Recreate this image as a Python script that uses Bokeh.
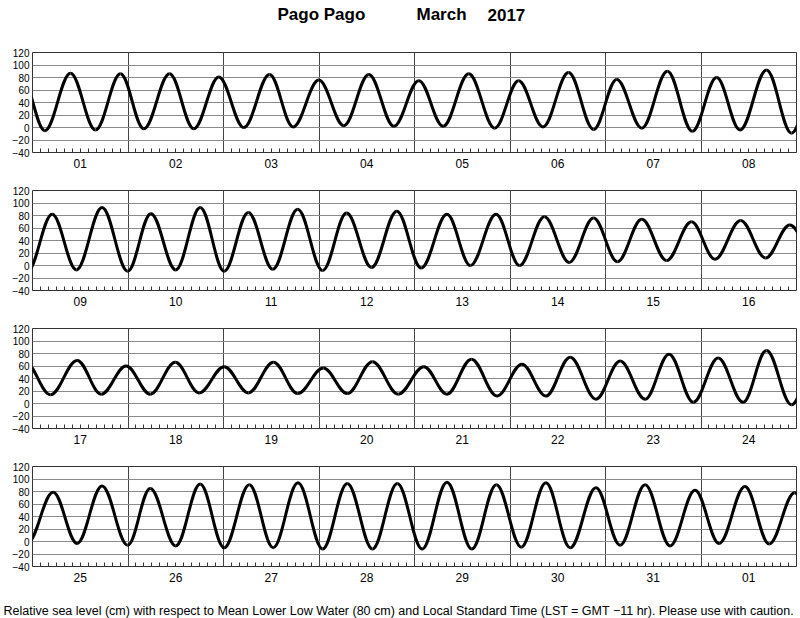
import numpy as np
from bokeh.plotting import figure
from bokeh.layouts import column
from bokeh.models import Range1d, FixedTicker, Label, ColumnDataSource
from bokeh.embed import file_html
from bokeh.resources import INLINE

# Tide extrema: time in days since 2017-03-01 00:00 LST, height in cm
t_ext = [-0.12, 0.129, 0.398, 0.66, 0.921, 1.166, 1.435, 1.689, 1.951, 2.213, 2.482,
         2.729, 2.998, 3.26, 3.522, 3.784, 4.045, 4.30, 4.568, 4.84, 5.09, 5.345,
         5.613, 5.875, 6.118, 6.38, 6.648, 6.909, 7.164, 7.408, 7.686, 7.948,
         8.206, 8.46, 8.728, 8.997, 9.24, 9.50, 9.756, 10.007, 10.26, 10.516, 10.777,
         11.038, 11.289, 11.55, 11.815, 12.07, 12.34, 12.585, 12.854, 13.10, 13.36,
         13.62, 13.875, 14.125, 14.38, 14.64, 14.90, 15.146, 15.415, 15.676, 15.93,
         16.188, 16.467, 16.72, 16.98, 17.233, 17.495, 17.745, 18.007, 18.261, 18.523,
         18.777, 19.045, 19.296, 19.56, 19.83, 20.098, 20.34, 20.596, 20.864, 21.125,
         21.376, 21.63, 21.90, 22.153, 22.415, 22.665, 22.92, 23.18, 23.44, 23.686,
         23.948, 24.216, 24.467, 24.728, 24.997, 25.233, 25.50, 25.756, 26.007, 26.27,
         26.52, 26.78, 27.038, 27.296, 27.56, 27.82, 28.08, 28.34, 28.60, 28.857,
         29.118, 29.376, 29.63, 29.90, 30.153, 30.415, 30.676, 30.937, 31.19, 31.46,
         31.714, 31.98, 32.24]
h_ext = [85, -5, 87, -4, 86, -2, 86, -2, 81, 0, 85,
         1, 76, 3, 85, 2, 75, 2, 86, -1, 75, 1,
         88, -3, 77, -1, 90, -6, 80, -4, 92, -9,
         82, -7, 93, -9, 83, -7, 93, -9, 85, -6, 90,
         -8, 84, -3, 87, -4, 82, 0, 82, 0, 78,
         5, 76, 6, 74, 8, 70, 10, 72, 12, 65,
         14, 69, 15, 60, 15, 66, 17, 59, 17, 66,
         16, 57, 16, 67, 15, 59, 15, 71, 12, 63,
         12, 74, 7, 68, 7, 79, 2, 73, 2, 85,
         -2, 79, -3, 89, -6, 85, -7, 92, -10, 91,
         -10, 94, -12, 93, -12, 93, -12, 95, -12, 91,
         -9, 94, -10, 86, -6, 91, -7, 82, -3, 88,
         -4, 78, 0]

day_labels = ["01", "02", "03", "04", "05", "06", "07", "08",
              "09", "10", "11", "12", "13", "14", "15", "16",
              "17", "18", "19", "20", "21", "22", "23", "24",
              "25", "26", "27", "28", "29", "30", "31", "01"]
y_ticks = [-40, -20, 0, 20, 40, 60, 80, 100, 120]
y_tick_labels = ["\u221240", "\u221220", "0", "20", "40", "60", "80", "100", "120"]

title_parts = ["Pago Pago", "March", "2017"]
footer_text = ("Relative sea level (cm) with respect to Mean Lower Low Water (80 cm) and "
               "Local Standard Time (LST = GMT \u221211 hr). Please use with caution.")

FONT = "Liberation Sans"
K = 0.3634  # bezier handle fraction approximating a half-cosine between extrema

t = np.array(t_ext, dtype=float)
h = np.array(h_ext, dtype=float)
dt = t[1:] - t[:-1]
src = ColumnDataSource(dict(
    x0=t[:-1], y0=h[:-1], x1=t[1:], y1=h[1:],
    cx0=t[:-1] + K * dt, cy0=h[:-1], cx1=t[1:] - K * dt, cy1=h[1:]))

W = 800
LEFT = 32


def text_strip(height):
    s = figure(width=W, height=height, output_backend="svg", toolbar_location=None,
               x_axis_location=None, y_axis_location=None,
               x_range=Range1d(0, 1), y_range=Range1d(0, 1), frame_align=False,
               min_border_left=0, min_border_right=0, min_border_top=0, min_border_bottom=0)
    s.grid.visible = False
    s.outline_line_color = None
    s.background_fill_color = "white"
    s.border_fill_color = "white"
    return s


header = text_strip(40)
for txt, xs in zip(title_parts, (277, 416, 487)):
    header.add_layout(Label(x=xs, y=26, x_units="screen", y_units="screen", text=txt,
                            text_font=FONT, text_font_size="17px", text_font_style="bold",
                            text_baseline="alphabetic", text_color="black"))

figs = []
for k in range(4):
    p = figure(width=W, height=12 + 100 + 26, output_backend="svg",
               toolbar_location=None, x_range=Range1d(8 * k, 8 * k + 8),
               y_range=Range1d(-40, 120),
               min_border_left=LEFT, min_border_right=4,
               min_border_top=12, min_border_bottom=26)
    p.outline_line_color = "#333333"
    p.outline_line_width = 1
    p.background_fill_color = "white"
    p.border_fill_color = "white"

    # grids
    p.ygrid.ticker = FixedTicker(ticks=y_ticks[1:-1])
    p.ygrid.grid_line_color = "#8a8a8a"
    p.ygrid.grid_line_width = 1
    p.xgrid.ticker = FixedTicker(ticks=[8 * k + i for i in range(1, 8)])
    p.xgrid.grid_line_color = "#444444"
    p.xgrid.grid_line_width = 1

    # y axis
    p.yaxis.ticker = FixedTicker(ticks=y_ticks)
    p.yaxis.major_label_overrides = {v: s for v, s in zip(y_ticks, y_tick_labels)}
    p.yaxis.axis_line_color = None
    p.yaxis.major_tick_line_color = None
    p.yaxis.major_tick_out = 0
    p.yaxis.major_tick_in = 0
    p.yaxis.minor_tick_line_color = None
    p.yaxis.minor_tick_out = 0
    p.yaxis.major_label_standoff = 3
    p.yaxis.major_label_text_font = FONT
    p.yaxis.major_label_text_font_size = "10px"
    p.yaxis.major_label_text_color = "black"

    # x axis: day labels at day centres, small inward ticks every 2 hours
    centers = [8 * k + i + 0.5 for i in range(8)]
    minors = [8 * k + j / 12 for j in range(1, 96) if j % 12 != 0]
    p.xaxis.ticker = FixedTicker(ticks=centers, minor_ticks=minors)
    p.xaxis.major_label_overrides = {c: day_labels[8 * k + i] for i, c in enumerate(centers)}
    p.xaxis.axis_line_color = None
    p.xaxis.major_tick_line_color = None
    p.xaxis.major_tick_out = 0
    p.xaxis.major_tick_in = 0
    p.xaxis.minor_tick_in = 4
    p.xaxis.minor_tick_out = 0
    p.xaxis.minor_tick_line_color = "#333333"
    p.xaxis.major_label_standoff = 6
    p.xaxis.major_label_text_font = FONT
    p.xaxis.major_label_text_font_size = "12px"
    p.xaxis.major_label_text_color = "black"

    p.bezier(x0="x0", y0="y0", x1="x1", y1="y1", cx0="cx0", cy0="cy0",
             cx1="cx1", cy1="cy1", source=src, line_color="black", line_width=3)
    figs.append(p)

footer = text_strip(26)
footer.add_layout(Label(x=3, y=8, x_units="screen", y_units="screen", text=footer_text,
                        text_font=FONT, text_font_size="12.5px", text_baseline="alphabetic",
                        text_color="black"))

layout = column(header, *figs, footer, spacing=0)
open("out.html", "w").write(file_html(layout, INLINE))
